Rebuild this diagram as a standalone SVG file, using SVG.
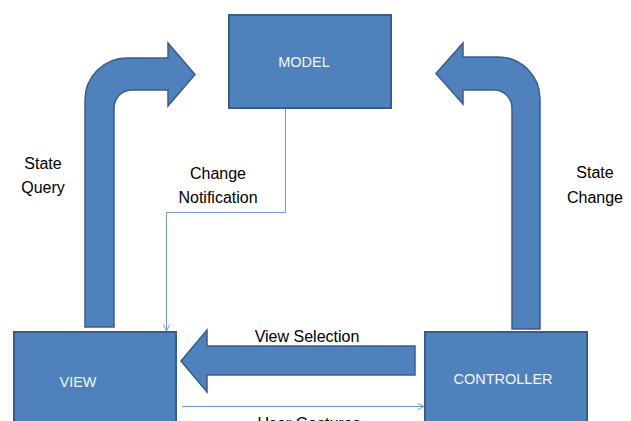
<svg xmlns="http://www.w3.org/2000/svg" width="631" height="421" viewBox="0 0 631 421">
<defs>
<style>
.box{fill:#4F81BD;stroke:#385D8A;stroke-width:2}
.arr{fill:#4F81BD;stroke:#385D8A;stroke-width:1.5;stroke-linejoin:miter}
.btxt{font-family:"Liberation Sans",Arial,sans-serif;font-size:14.5px;fill:#F2F6FB;text-anchor:middle}
.lbl{font-family:"Liberation Sans",Arial,sans-serif;font-size:16px;fill:#000;text-anchor:middle}
.con{fill:none;stroke:#6F97CC;stroke-width:1}
</style>
<marker id="open" viewBox="0 0 10 10" refX="9" refY="5" markerWidth="8" markerHeight="8" orient="auto" markerUnits="userSpaceOnUse">
<path d="M1,1 L9,5 L1,9" fill="none" stroke="#6F97CC" stroke-width="1.2"/>
</marker>
</defs>
<rect width="631" height="421" fill="#fff"/>
<g id="connectors">
<path id="stateQuery" class="arr" d="M85,327 L85,100 A42,42 0 0 1 127,58 L168,58 L168,43 L195,74.5 L168,106 L168,90 L132,90 A18,18 0 0 0 114,108 L114,327 Z"/>
<path id="stateChange" class="arr" d="M540,329 L540,99 A42,42 0 0 0 498,57 L463,57 L463,43 L436,73.5 L463,104 L463,90 L494,90 A18,18 0 0 1 512,108 L512,329 Z"/>
<path id="viewSelection" class="arr" d="M415,346 L207,346 L207,330 L181,361 L207,392 L207,375 L415,375 Z"/>
<polyline id="changeNotification" class="con" points="285.5,108 285.5,212.5 166.5,212.5 166.5,331" marker-end="url(#open)"/>
<line id="userGestures" class="con" x1="182" y1="406.5" x2="424" y2="406.5" marker-end="url(#open)"/>
<text class="lbl" x="43" y="169">State</text>
<text class="lbl" x="43" y="193">Query</text>
<text class="lbl" x="218" y="179">Change</text>
<text class="lbl" x="218" y="203">Notification</text>
<text class="lbl" x="595" y="178">State</text>
<text class="lbl" x="595" y="203">Change</text>
<text class="lbl" x="307" y="342">View Selection</text>
<text class="lbl" x="309" y="429">User Gestures</text>
</g>
<g id="model">
<rect class="box" x="229" y="15" width="162" height="93"/>
<text class="btxt" x="304" y="67">MODEL</text>
</g>
<g id="view">
<rect class="box" x="14" y="332" width="162" height="100"/>
<text class="btxt" x="78" y="387">VIEW</text>
</g>
<g id="controller">
<rect class="box" x="425" y="332" width="162" height="100"/>
<text class="btxt" x="503" y="384">CONTROLLER</text>
</g>
</svg>
